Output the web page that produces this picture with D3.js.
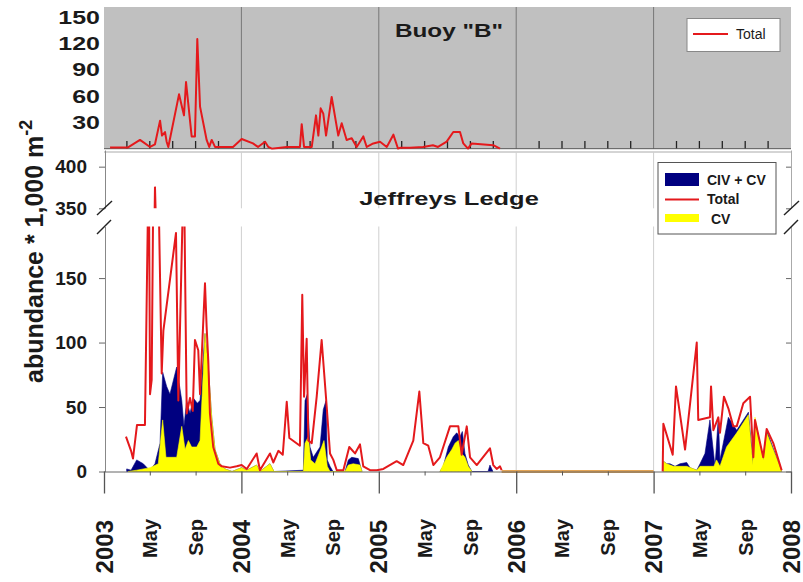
<!DOCTYPE html>
<html><head><meta charset="utf-8">
<script src="https://cdn.jsdelivr.net/npm/d3@7"></script>
<style>
body{margin:0;background:#fff;}
svg{display:block;font-family:"Liberation Sans",Arial,Helvetica,sans-serif;}
</style></head><body>
<svg id="chart" width="803" height="582"></svg>
<script>
// ---------- DATA (decimal years) ----------
const years = [2003, 2004, 2005, 2006, 2007, 2008];
const monthNames = ["May", "Sep"];
const monthOffsets = [4/12, 8/12];
const topTickMonths = [3, 5, 7, 9, 11];
const buoyTicks = [30, 60, 90, 120, 150];
const lowTicks = [0, 50, 100, 150];
const upTicks = [350, 400];

// Buoy "B" total
const buoyTime = [2003.044,2003.175,2003.262,2003.335,2003.371,2003.408,2003.422,2003.444,2003.456,2003.468,2003.546,2003.582,2003.597,2003.638,2003.662,2003.679,2003.699,2003.747,2003.766,2003.784,2003.808,2003.939,2004.002,2004.084,2004.121,2004.172,2004.196,2004.221,2004.330,2004.426,2004.439,2004.456,2004.512,2004.543,2004.560,2004.577,2004.596,2004.616,2004.657,2004.705,2004.730,2004.766,2004.803,2004.839,2004.887,2004.912,2004.960,2005.009,2005.058,2005.106,2005.140,2005.154,2005.227,2005.322,2005.394,2005.431,2005.494,2005.542,2005.591,2005.615,2005.649,2005.676,2005.833,2005.882];
const buoyTotal = [1.5,1.5,10,2,5,32,15,19,8,2,62,38,76,14,14,125,48,10,2,10,2,2,11,6,2,8,2,0,2,2,28,2,2,38,15,46,40,15,59,15,29,10,12,2,14,2,6,8,2,16,0,1,1,2,4,2,8,19,19,6,0,6,4,0];

// Jeffreys Ledge total
const ledgeTime = [2003.160,2003.197,2003.211,2003.240,2003.298,2003.326,2003.335,2003.347,2003.371,2003.420,2003.432,2003.524,2003.541,2003.581,2003.602,2003.626,2003.646,2003.662,2003.686,2003.699,2003.735,2003.747,2003.759,2003.771,2003.795,2003.832,2003.857,2003.917,2003.966,
 2004.002,2004.039,2004.111,2004.135,2004.208,2004.232,2004.269,2004.301,2004.330,2004.349,2004.426,2004.443,2004.456,2004.475,2004.487,2004.512,2004.548,2004.584,2004.621,2004.645,2004.669,2004.694,2004.742,2004.785,2004.827,2004.863,2004.887,2004.936,2004.985,
 2005.033,2005.130,2005.178,2005.251,2005.295,2005.324,2005.360,2005.397,2005.445,2005.518,2005.542,2005.579,2005.603,2005.640,2005.664,2005.713,2005.809,2005.833,2005.858,2005.882,2005.894,
 2007.066,2007.071,2007.139,2007.163,2007.229,2007.314,2007.325,2007.410,2007.418,2007.435,2007.471,2007.483,2007.512,2007.544,2007.580,2007.605,2007.653,2007.702,2007.726,2007.738,2007.798,2007.823,2007.871,2007.932];
const ledgeTotal = [27,16,10,36,36,250,60,71,376,76,109,185,55,240,45,57,47,102,94,60,146,112,86,45,19,6,4,3,4,
 5,2,14,1,14,7,16,13,54,26,20,137,58,103,24,22,58,102,50,14,9,1,1,19,14,21,4,1,1,
 2,8,5,24,62,22,20,5,11,35,35,35,13,35,11,5,18,5,2,4,1,
 0,37,13,66,17,100,40,42,66,32,42,30,58,49,35,35,53,58,11,40,11,33,22,1];

// CIV + CV
const civcvTime = [2003.165,2003.197,2003.238,2003.286,2003.322,2003.335,2003.371,2003.408,2003.427,2003.456,2003.480,2003.529,2003.566,2003.582,2003.602,2003.626,2003.650,2003.679,2003.699,2003.735,2003.759,2003.784,2003.808,2003.844,2003.881,2003.932,
 2004.002,2004.039,2004.111,2004.135,2004.208,2004.237,2004.451,2004.463,2004.480,2004.499,2004.523,2004.572,2004.596,2004.616,2004.625,2004.645,2004.667,2004.754,2004.778,2004.803,2004.851,2004.878,
 2005.445,2005.469,2005.506,2005.542,2005.567,2005.591,2005.608,2005.627,2005.651,2005.678,2005.795,2005.809,2005.831,
 2007.071,2007.095,2007.119,2007.156,2007.192,2007.241,2007.265,2007.314,2007.338,2007.374,2007.410,2007.447,2007.471,2007.483,2007.544,2007.605,2007.690,2007.722,2007.738,2007.798,2007.823,2007.932];
const civcvValue = [2,1,9,6,2,1,6,22,77,66,60,81,55,35,55,45,57,53,55,107,81,42,17,6,2,0,
 3,1,5,0,6,0,1,55,60,19,11,19,48,55,9,4,0,0,9,11,10,0,
 0,4,19,27,30,27,31,14,5,0,0,5,0,
 8,6,6,4,6,7,3,1,6,14,40,4,42,9,42,32,46,9,40,10,32,0];

// CV
const cvTime = [2003.175,2003.238,2003.335,2003.395,2003.427,2003.451,2003.529,2003.566,2003.590,2003.614,2003.638,2003.675,2003.699,2003.735,2003.759,2003.784,2003.808,2003.844,2003.881,2003.932,
 2004.002,2004.039,2004.111,2004.135,2004.208,2004.237,2004.451,2004.463,2004.487,2004.504,2004.536,2004.584,2004.601,2004.625,2004.645,2004.754,2004.778,2004.814,2004.863,2004.878,
 2005.445,2005.494,2005.531,2005.555,2005.579,2005.603,2005.627,2005.651,2005.678,
 2007.071,2007.095,2007.144,2007.241,2007.314,2007.338,2007.410,2007.439,2007.458,2007.483,2007.531,2007.605,2007.690,2007.722,2007.738,2007.798,2007.823,2007.932];
const cvValue = [0,1,3,6,40,11,11,35,17,24,19,19,24,107,81,42,17,6,2,0,
 3,1,5,0,6,0,0,22,27,9,6,19,24,4,0,0,5,6,5,0,
 0,11,17,22,24,14,11,4,0,
 8,6,4,4,1,4,4,4,9,4,19,30,44,5,42,9,30,0];

// period without sampling
const noSampling = [2005.894, 2007.0];

// ---------- CHART ----------
const svg = d3.select("#chart");
const X0 = 104, X1 = 791;
const RED = "#e4191c", NAVY = "#000080", YEL = "#ffff00";
const x = d3.scaleLinear().domain([2003, 2008]).range([X0, X1]);
const yTop = d3.scaleLinear().domain([0, 161.6]).range([148.7, 7]);
const yLow = d3.scaleLinear().domain([0, 190]).range([471.5, 226.5]);
const yUp = d3.scaleLinear().domain([350, 420]).range([208.3, 150]);

function segments(t, v, maxGap = 0.3) {
  const segs = []; let cur = [];
  t.forEach((d, i) => {
    if (cur.length && d - t[i - 1] > maxGap) { segs.push(cur); cur = []; }
    cur.push([d, v[i]]);
  });
  if (cur.length) segs.push(cur);
  return segs;
}

const defs = svg.append("defs");
defs.append("clipPath").attr("id", "clipTop").append("rect")
  .attr("x", X0).attr("y", 7).attr("width", X1 - X0).attr("height", 148.7 - 7 + 1);
defs.append("clipPath").attr("id", "clipLow").append("rect")
  .attr("x", X0).attr("y", 226.5).attr("width", X1 - X0).attr("height", 247);
defs.append("clipPath").attr("id", "clipUp").append("rect")
  .attr("x", X0).attr("y", 152).attr("width", X1 - X0).attr("height", 208.3 - 152);

// ---- top panel ----
svg.append("rect").attr("x", X0).attr("y", 7).attr("width", X1 - X0).attr("height", 148.7 - 7)
  .attr("fill", "#c0c0c0");
svg.append("g").selectAll("line").data(years.slice(1, -1)).join("line")
  .attr("x1", d => x(d)).attr("x2", d => x(d)).attr("y1", 7).attr("y2", 148.7)
  .attr("stroke", "#777").attr("stroke-width", 1);
const minorTop = [];
years.slice(0, -1).forEach(yr => topTickMonths.forEach(m => minorTop.push(yr + (m - 1) / 12)));
svg.append("g").selectAll("line").data(minorTop).join("line")
  .attr("x1", d => x(d)).attr("x2", d => x(d)).attr("y1", 141).attr("y2", 148.7)
  .attr("stroke", "#222").attr("stroke-width", 1.3);
svg.append("line").attr("x1", X0).attr("x2", X1).attr("y1", 148.7).attr("y2", 148.7)
  .attr("stroke", "#555").attr("stroke-width", 1);

const topLine = d3.line().x(d => x(d[0])).y(d => yTop(d[1]));
svg.append("g").attr("clip-path", "url(#clipTop)")
  .selectAll("path").data(segments(buoyTime, buoyTotal)).join("path")
  .attr("d", topLine).attr("fill", "none").attr("stroke", RED).attr("stroke-width", 2)
  .attr("stroke-linejoin", "round");

const gTopAxis = svg.append("g").attr("transform", `translate(${X0},0)`)
  .call(d3.axisLeft(yTop).tickValues(buoyTicks).tickSize(0));
gTopAxis.select(".domain").remove();
gTopAxis.selectAll("text").attr("x", 0)
  .attr("transform", "translate(-4,0) scale(1.35,1)")
  .attr("font-size", 18.5).attr("font-weight", "bold").attr("fill", "#1a1a1a")
  .attr("font-family", "Liberation Sans, Arial, sans-serif");

svg.append("text").attr("transform", "translate(449,37) scale(1.28,1)")
  .attr("text-anchor", "middle").attr("font-size", 19).attr("font-weight", "bold")
  .attr("fill", "#1a1a1a").text('Buoy "B"');

// top legend
svg.append("rect").attr("x", 687).attr("y", 18.5).attr("width", 93).attr("height", 33)
  .attr("fill", "#fff").attr("stroke", "#888");
svg.append("line").attr("x1", 693).attr("x2", 728).attr("y1", 34).attr("y2", 34)
  .attr("stroke", RED).attr("stroke-width", 2);
svg.append("text").attr("x", 736).attr("y", 39).attr("font-size", 14).attr("fill", "#1a1a1a").text("Total");

// ---- bottom panel ----
svg.append("line").attr("x1", X0).attr("x2", X1).attr("y1", 152).attr("y2", 152)
  .attr("stroke", "#aaa");
const grid = svg.append("g");
years.slice(1, -1).forEach(yr => {
  [[152, 208.3], [226.5, 471.5]].forEach(([a, b]) => {
    grid.append("line").attr("x1", x(yr)).attr("x2", x(yr)).attr("y1", a).attr("y2", b)
      .attr("stroke", "#cfcfcf").attr("stroke-width", 1);
  });
});

const areaLow = d3.area().x(d => x(d[0])).y0(yLow(0)).y1(d => yLow(d[1]));
const lowG = svg.append("g").attr("clip-path", "url(#clipLow)");
lowG.append("g").selectAll("path").data(segments(civcvTime, civcvValue)).join("path")
  .attr("d", areaLow).attr("fill", NAVY).attr("stroke", NAVY).attr("stroke-width", 0.6);
lowG.append("g").selectAll("path").data(segments(cvTime, cvValue)).join("path")
  .attr("d", areaLow).attr("fill", YEL).attr("stroke", YEL).attr("stroke-width", 0.6);
lowG.append("line").attr("x1", x(noSampling[0])).attr("x2", x(noSampling[1]))
  .attr("y1", yLow(0)).attr("y2", yLow(0)).attr("stroke", "#e3a455").attr("stroke-width", 3);
const lineLow = d3.line().x(d => x(d[0])).y(d => yLow(d[1]));
lowG.append("g").selectAll("path").data(segments(ledgeTime, ledgeTotal)).join("path")
  .attr("d", lineLow).attr("fill", "none").attr("stroke", RED).attr("stroke-width", 2)
  .attr("stroke-linejoin", "round");
const lineUp = d3.line().x(d => x(d[0])).y(d => yUp(d[1]));
svg.append("g").attr("clip-path", "url(#clipUp)")
  .selectAll("path").data(segments(ledgeTime, ledgeTotal)).join("path")
  .attr("d", lineUp).attr("fill", "none").attr("stroke", RED).attr("stroke-width", 2);

// left axes
function styleY(g) {
  g.select(".domain").attr("stroke", "#888");
  g.selectAll(".tick line").attr("stroke", "#666");
  g.selectAll(".tick text").attr("font-size", 19).attr("font-weight", "bold").attr("fill", "#1a1a1a")
    .attr("font-family", "Liberation Sans, Arial, sans-serif");
}
svg.append("g").attr("transform", `translate(${X0 + 1},0)`)
  .call(d3.axisLeft(yLow).tickValues(lowTicks).tickSize(6).tickSizeOuter(0).tickPadding(12)).call(styleY);
svg.append("g").attr("transform", `translate(${X0 + 1},0)`)
  .call(d3.axisLeft(yUp).tickValues(upTicks).tickSize(6).tickSizeOuter(0).tickPadding(12)).call(styleY);
// right axes
function styleR(g) {
  g.select(".domain").attr("stroke", "#aaa");
  g.selectAll(".tick line").attr("stroke", "#666");
}
svg.append("g").attr("transform", `translate(${X1},0)`)
  .call(d3.axisRight(yLow).tickValues(lowTicks).tickSizeInner(-5).tickSizeOuter(0).tickFormat("")).call(styleR);
svg.append("g").attr("transform", `translate(${X1},0)`)
  .call(d3.axisRight(yUp).tickValues(upTicks).tickSizeInner(-5).tickSizeOuter(0).tickFormat("")).call(styleR);

// break marks
const brk = svg.append("g").attr("stroke", "#222").attr("stroke-width", 1.4);
[X0, X1].forEach(bx => {
  brk.append("line").attr("x1", bx - 7).attr("y1", 215).attr("x2", bx + 8).attr("y2", 201);
  brk.append("line").attr("x1", bx - 7).attr("y1", 234).attr("x2", bx + 7).attr("y2", 220);
});

// x axis
const gx = svg.append("g").attr("transform", `translate(0,${yLow(0)})`)
  .call(d3.axisBottom(x).tickValues(years).tickSize(22).tickSizeOuter(0).tickFormat(""));
gx.select(".domain").attr("stroke", "#666");
gx.selectAll(".tick line").attr("stroke", "#555").attr("stroke-width", 1.3);
const monthPos = [];
years.slice(0, -1).forEach(yr => monthOffsets.forEach((o, i) => monthPos.push({ v: yr + o, name: monthNames[i] })));
const gm = svg.append("g").attr("transform", `translate(0,${yLow(0)})`)
  .call(d3.axisBottom(x).tickValues(monthPos.map(d => d.v)).tickSize(4).tickFormat(""));
gm.select(".domain").remove();
gm.selectAll(".tick line").attr("stroke", "#555");

svg.append("g").selectAll("text").data(years).join("text")
  .attr("transform", d => `translate(${x(d) + 8.5},520) rotate(-90)`)
  .attr("text-anchor", "end").attr("font-size", 24).attr("font-weight", "bold").attr("fill", "#1a1a1a")
  .text(d => d);
svg.append("g").selectAll("text").data(monthPos).join("text")
  .attr("transform", d => `translate(${x(d.v) + 7.3},519) rotate(-90)`)
  .attr("text-anchor", "end").attr("font-size", 20).attr("font-weight", "bold").attr("fill", "#1a1a1a")
  .text(d => d.name);

// y title
const yt = svg.append("text").attr("transform", "translate(43,383) rotate(-90)")
  .attr("font-size", 25).attr("font-weight", "bold").attr("fill", "#1a1a1a");
yt.append("tspan").text("abundance * 1,000 m");
yt.append("tspan").attr("dy", -11).attr("font-size", 18).text("-2");

// panel title
svg.append("text").attr("transform", "translate(449,205) scale(1.34,1)")
  .attr("text-anchor", "middle").attr("font-size", 19).attr("font-weight", "bold")
  .attr("fill", "#1a1a1a").text("Jeffreys Ledge");

// bottom legend
const lg = svg.append("g");
lg.append("rect").attr("x", 658).attr("y", 162.5).attr("width", 118).attr("height", 71.5)
  .attr("fill", "#fff").attr("stroke", "#555");
lg.append("rect").attr("x", 665).attr("y", 173).attr("width", 34).attr("height", 13).attr("fill", NAVY);
lg.append("line").attr("x1", 665).attr("x2", 699).attr("y1", 199.5).attr("y2", 199.5)
  .attr("stroke", RED).attr("stroke-width", 2);
lg.append("rect").attr("x", 665).attr("y", 214).attr("width", 34).attr("height", 8).attr("fill", YEL);
const legTexts = ["CIV + CV", "Total", " CV"];
lg.selectAll("text.lt").data(legTexts).join("text").attr("class", "lt")
  .attr("x", 707).attr("y", (d, i) => [185, 204, 224][i])
  .attr("font-size", 14).attr("font-weight", "bold").attr("fill", "#1a1a1a")
  .attr("xml:space", "preserve").style("white-space", "pre").text(d => d);
</script>
</body></html>
